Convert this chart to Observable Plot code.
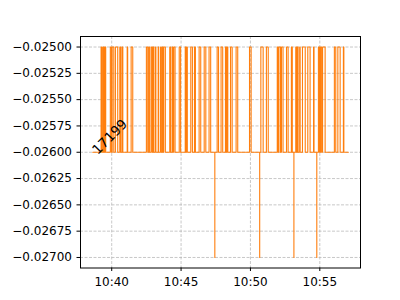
<!DOCTYPE html>
<html><head><meta charset="utf-8">
<script src="https://cdn.jsdelivr.net/npm/d3@7"></script>
<script src="https://cdn.jsdelivr.net/npm/@observablehq/plot@0.6"></script>
<style>body{margin:0;background:#fff}</style>
</head><body><div id="chart"></div>
<script>
// times are minutes:seconds after 10:00
const startTime = "38:38", endTime = "57:03";
const baseValue = -0.026, highValue = -0.025, lowValue = -0.027;
const riseTimes = ["39:14","39:23","39:31","39:54","40:02","40:16","40:35","40:45","41:07","41:24","42:30","42:41","42:50","42:58","43:09","43:21","43:31","43:38","43:45","44:11","44:21","44:28","44:52","45:18","45:24","45:42","45:58","46:18","46:40","47:01","47:36","47:53","48:12","48:19","48:34","48:58","49:56","50:45","51:09","51:56","52:03","52:14","52:36","52:57","53:16","53:23","53:33","53:45","54:08","54:33","54:54","55:03","55:12","56:03","56:18","56:42"];
const fallTimes = ["39:18","39:27","39:34","39:59","40:09","40:26","40:39","40:48","41:09","41:31","42:36","42:43","42:55","43:02","43:11","43:23","43:33","43:41","43:52","44:14","44:24","44:34","44:58","45:21","45:27","45:49","46:02","46:25","46:47","47:08","47:42","48:00","48:16","48:22","48:41","49:05","50:03","50:55","51:17","51:59","52:10","52:21","52:43","53:01","53:19","53:26","53:35","53:57","54:18","54:35","54:59","55:08","55:23","56:09","56:28","56:44"];
const dipTimes = ["47:26","50:40","53:08","54:47"];
const labelText = "17199";
const yTicks = [-0.025,-0.02525,-0.0255,-0.02575,-0.026,-0.02625,-0.0265,-0.02675,-0.027];
const xTickTimes = ["40:00","45:00","50:00","55:00"];
const xDomainTimes = ["37:45","57:56"];
const yDomain = [-0.0271, -0.0249];

function t(ms){const [m,s]=ms.split(":").map(Number);return new Date(Date.UTC(2024,0,2,10,m,s));}

const groups = [];
groups.push([[t(startTime), baseValue]]);
riseTimes.forEach((r,i)=>{groups.push([[t(r),baseValue],[t(r),highValue],[t(fallTimes[i]),highValue],[t(fallTimes[i]),baseValue]]);});
dipTimes.forEach(d=>{groups.push([[t(d),baseValue],[t(d),lowValue],[t(d),baseValue]]);});
groups.push([[t(endTime), baseValue]]);
groups.sort((a,b)=>a[0][0]-b[0][0]);
const series = groups.flat().map(([x,y])=>({x,y}));
const xTicks = xTickTimes.map(t);

const chart = Plot.plot({
  width:400, height:300,
  marginLeft:80, marginRight:40, marginTop:36, marginBottom:32.5,
  style:{fontFamily:"DejaVu Sans", fontSize:"12px", background:"#fff", color:"#000"},
  x:{type:"utc", domain:xDomainTimes.map(t)},
  y:{domain:yDomain},
  marks:[
    Plot.gridY(yTicks,{stroke:"#b0b0b0", strokeOpacity:1, strokeWidth:0.7, strokeDasharray:"3,1.5"}),
    Plot.gridX(xTicks,{stroke:"#b0b0b0", strokeOpacity:1, strokeWidth:0.7, strokeDasharray:"3,1.5"}),
    Plot.line(series,{x:"x", y:"y", stroke:"#ff7f0e", strokeWidth:1.1}),
    Plot.frame({stroke:"#000", strokeWidth:1}),
    Plot.axisY(yTicks,{tickFormat:d3.format(".5f"), tickSize:3.5, tickPadding:5, fontSize:12, label:null}),
    Plot.axisX(xTicks,{tickFormat:d3.utcFormat("%H:%M"), tickSize:3.5, tickPadding:5.5, fontSize:12, label:null}),
    Plot.text([{x:t(startTime), y:baseValue, label:labelText}],{x:"x", y:"y", text:"label", rotate:-45, textAnchor:"start", lineAnchor:"bottom", fontSize:13.5, fill:"#000", dx:5, dy:3})
  ]
});
document.getElementById("chart").append(chart);
</script></body></html>
